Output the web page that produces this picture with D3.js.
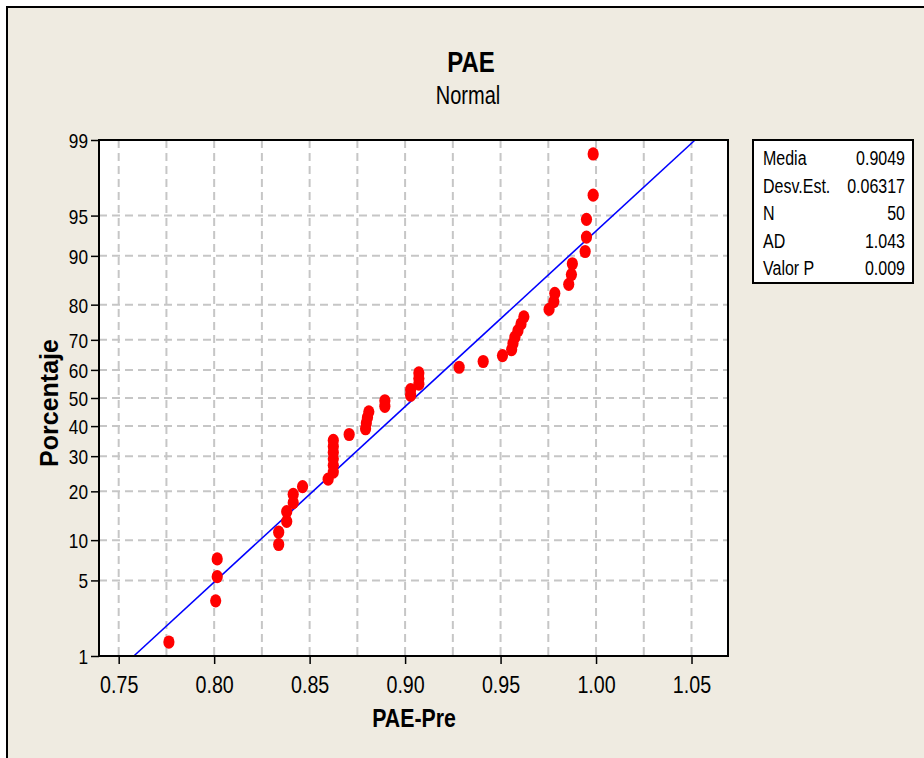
<!DOCTYPE html>
<html>
<head>
<meta charset="utf-8">
<script src="https://cdn.jsdelivr.net/npm/d3@7.9.0/dist/d3.min.js"></script>
<style>
  body { margin: 0; background: #fff; }
  svg text { font-family: "Liberation Sans", Arial, sans-serif; fill: #000; }
</style>
</head>
<body>
<svg id="chart" width="924" height="758"></svg>
<script>
// PAE-Pre values, sorted
const paeValues = [
  0.7763, 0.8008, 0.8016, 0.8016, 0.8338, 0.8338, 0.8380, 0.8380, 0.8414, 0.8414,
  0.8463, 0.8597, 0.8624, 0.8624, 0.8624, 0.8624, 0.8624, 0.8624, 0.8707, 0.8793,
  0.8797, 0.8803, 0.8810, 0.8894, 0.8894, 0.9029, 0.9029, 0.9072, 0.9072, 0.9072,
  0.9283, 0.9409, 0.9510, 0.9558, 0.9565, 0.9575, 0.9591, 0.9607, 0.9622, 0.9754,
  0.9779, 0.9784, 0.9857, 0.9871, 0.9876, 0.9943, 0.9950, 0.9950, 0.9985, 0.9985
];
const xTicks = [0.75, 0.80, 0.85, 0.90, 0.95, 1.00, 1.05];
const yTicks = [1, 5, 10, 20, 30, 40, 50, 60, 70, 80, 90, 95, 99];
const statLabels = ["Media", "Desv.Est.", "N", "AD", "Valor P"];
const statValues = ["0.9049", "0.06317", "50", "1.043", "0.009"];
const fitMean = 0.9049;
const fitSd = 0.06317;

// inverse standard normal (Acklam)
function qnorm(p) {
  const a = [-39.69683028665376, 220.9460984245205, -275.9285104469687, 138.3577518672690, -30.66479806614716, 2.506628277459239];
  const b = [-54.47609879822406, 161.5858368580409, -155.6989798598866, 66.80131188771972, -13.28068155288572];
  const c = [-0.007784894002430293, -0.3223964580411365, -2.400758277161838, -2.549732539343734, 4.374664141464968, 2.938163982698783];
  const d = [0.007784695709041462, 0.3224671290700398, 2.445134137142996, 3.754408661907416];
  const pl = 0.02425;
  let q, r;
  if (p < pl) {
    q = Math.sqrt(-2 * Math.log(p));
    return (((((c[0]*q+c[1])*q+c[2])*q+c[3])*q+c[4])*q+c[5]) / ((((d[0]*q+d[1])*q+d[2])*q+d[3])*q+1);
  } else if (p <= 1 - pl) {
    q = p - 0.5; r = q * q;
    return (((((a[0]*r+a[1])*r+a[2])*r+a[3])*r+a[4])*r+a[5])*q / (((((b[0]*r+b[1])*r+b[2])*r+b[3])*r+b[4])*r+1);
  }
  q = Math.sqrt(-2 * Math.log(1 - p));
  return -(((((c[0]*q+c[1])*q+c[2])*q+c[3])*q+c[4])*q+c[5]) / ((((d[0]*q+d[1])*q+d[2])*q+d[3])*q+1);
}

const svg = d3.select("#chart");
const W = 924, H = 758;
const plot = { left: 99, right: 728, top: 140, bottom: 656 };

// narrow text (no condensed font installed), squeezed horizontally
function label(x0, y0, txt, size, k, opts = {}) {
  const t = svg.append("g").attr("transform", `translate(${x0},${y0})${opts.rotate ? " rotate(-90)" : ""}`)
    .append("text").attr("transform", `scale(${k},1)`)
    .attr("text-anchor", opts.anchor || "middle").attr("font-size", size).text(txt);
  if (opts.bold) t.attr("font-weight", "bold");
  return t;
}

// background + frame
svg.append("rect").attr("x", 7).attr("y", 7).attr("width", W - 7).attr("height", H - 7).attr("fill", "#EFEBE1");
svg.append("line").attr("x1", 6).attr("x2", W).attr("y1", 7).attr("y2", 7).attr("stroke", "#000").attr("stroke-width", 2);
svg.append("line").attr("x1", 7).attr("x2", 7).attr("y1", 6).attr("y2", H).attr("stroke", "#000").attr("stroke-width", 2);

const zMax = qnorm(0.99);
const x = d3.scaleLinear().domain([0.73969, 1.06911]).range([plot.left, plot.right]);
const y = d3.scaleLinear().domain([-zMax, zMax]).range([plot.bottom, plot.top]);

svg.append("rect")
  .attr("x", plot.left).attr("y", plot.top)
  .attr("width", plot.right - plot.left).attr("height", plot.bottom - plot.top)
  .attr("fill", "#fff");

// grid
const g = svg.append("g");
const vGrid = d3.range(0, 13).map(i => 0.75 + i * 0.025);
g.selectAll(".vg").data(vGrid).enter().append("line")
  .attr("x1", d => x(d)).attr("x2", d => x(d))
  .attr("y1", plot.top).attr("y2", plot.bottom)
  .attr("stroke", "#c6c6c6").attr("stroke-width", 2).attr("stroke-dasharray", "8,5");
g.selectAll(".hg").data(yTicks.slice(1, -1)).enter().append("line")
  .attr("x1", plot.left).attr("x2", plot.right)
  .attr("y1", d => y(qnorm(d / 100))).attr("y2", d => y(qnorm(d / 100)))
  .attr("stroke", "#c6c6c6").attr("stroke-width", 2).attr("stroke-dasharray", "8,5");

// fitted line
svg.append("line")
  .attr("x1", x(fitMean - zMax * fitSd)).attr("y1", y(-zMax))
  .attr("x2", x(fitMean + zMax * fitSd)).attr("y2", y(zMax))
  .attr("stroke", "#0000ff").attr("stroke-width", 1.6);

// points (median ranks)
const n = paeValues.length;
svg.append("g").selectAll("ellipse").data(paeValues).enter().append("ellipse")
  .attr("cx", d => x(d))
  .attr("cy", (d, i) => y(qnorm((i + 1 - 0.3) / (n + 0.4))))
  .attr("rx", 5.6).attr("ry", 6.6)
  .attr("fill", "#ff0000");

// plot border
svg.append("rect")
  .attr("x", plot.left).attr("y", plot.top)
  .attr("width", plot.right - plot.left).attr("height", plot.bottom - plot.top)
  .attr("fill", "none").attr("stroke", "#000").attr("stroke-width", 2);

// axes
const xAxis = d3.axisBottom(x).tickValues(xTicks).tickFormat(d3.format(".2f")).tickSize(8).tickSizeOuter(0);
const xa = svg.append("g").attr("transform", `translate(0,${plot.bottom})`).call(xAxis);
xa.select(".domain").remove();
xa.selectAll("line").attr("stroke", "#000").attr("stroke-width", 1.5);
xa.selectAll("text").attr("font-size", 24).attr("y", 37).attr("dy", 0)
  .attr("transform", "scale(0.82,1)").style("font-family", null).attr("fill", "#000");

const yAxis = d3.axisLeft(y).tickValues(yTicks.map(p => qnorm(p / 100)))
  .tickFormat((d, i) => yTicks[i]).tickSize(8).tickSizeOuter(0);
const ya = svg.append("g").attr("transform", `translate(${plot.left},0)`).call(yAxis);
ya.select(".domain").remove();
ya.selectAll("line").attr("stroke", "#000").attr("stroke-width", 1.5);
ya.selectAll("text").attr("font-size", 21).attr("x", -11 / 0.82).attr("dy", "0.36em")
  .attr("transform", "scale(0.82,1)").style("font-family", null).attr("fill", "#000");

// titles
label(471, 72, "PAE", 30, 0.8, { bold: true });
label(468, 104, "Normal", 25, 0.8);
label(414, 727, "PAE-Pre", 26, 0.82, { bold: true });
label(58, 403, "Porcentaje", 25, 1, { bold: true, rotate: true });

// stats box
const box = { x: 753, y: 140, w: 160, h: 143 };
svg.append("rect").attr("x", box.x).attr("y", box.y).attr("width", box.w).attr("height", box.h)
  .attr("fill", "#fff").attr("stroke", "#000").attr("stroke-width", 2);
const rowY = d3.scalePoint().domain(statLabels).range([box.y + 25, box.y + 135]);
statLabels.forEach((s, i) => {
  label(box.x + 10, rowY(s), s, 20, 0.8, { anchor: "start" });
  label(box.x + box.w - 8, rowY(s), statValues[i], 20, 0.8, { anchor: "end" });
});
</script>
</body>
</html>
